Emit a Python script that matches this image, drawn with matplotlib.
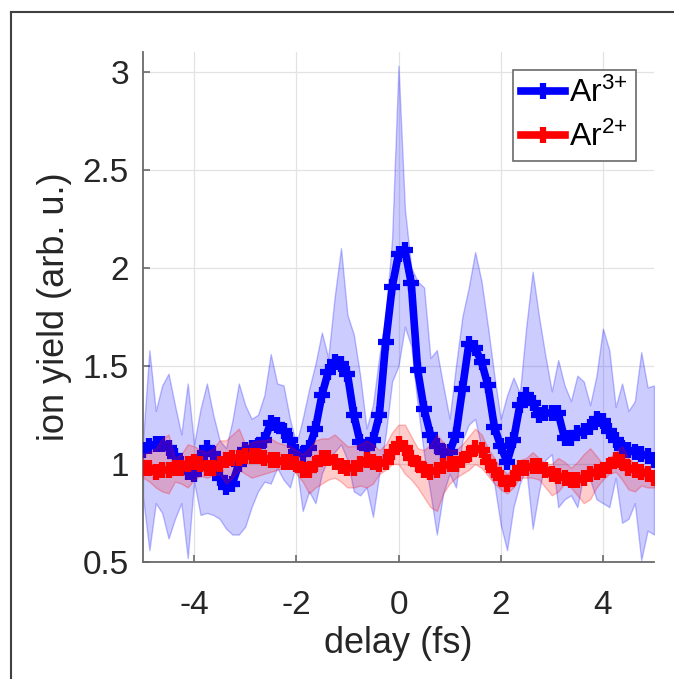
import numpy as np
import matplotlib
matplotlib.use('Agg')
import matplotlib.pyplot as plt
from matplotlib.lines import Line2D

plt.rcParams['font.family'] = ['Liberation Sans', 'DejaVu Sans']
plt.rcParams['mathtext.default'] = 'regular'

### Data ###
delay = np.linspace(-5, 5, 81)  # fs, 0.125 fs steps

ar3_mean = [1.07, 1.09, 1.10, 1.10, 1.08, 1.04, 1.00, 0.96, 0.95,
            1.03, 1.08, 1.05, 0.93, 0.88, 0.90, 1.00, 1.07, 1.08,
            1.09, 1.12, 1.21, 1.20, 1.17, 1.12, 1.06, 1.05, 1.08,
            1.18, 1.35, 1.47, 1.52, 1.51, 1.46, 1.25, 1.11, 1.08,
            1.12, 1.25, 1.62, 1.90, 2.07, 2.09, 1.92, 1.48, 1.28,
            1.15, 1.09, 1.06, 1.06, 1.15, 1.38, 1.61, 1.59, 1.52,
            1.40, 1.19, 1.09, 1.01, 1.12, 1.30, 1.35, 1.31, 1.25,
            1.26, 1.26, 1.26, 1.13, 1.13, 1.16, 1.17, 1.19, 1.23,
            1.22, 1.17, 1.12, 1.08, 1.07, 1.06, 1.05, 1.04, 1.02]
ar3_upper = [1.12, 1.58, 1.27, 1.40, 1.46, 1.30, 1.15, 1.41, 1.10,
             1.28, 1.41, 1.25, 1.12, 1.08, 1.22, 1.41, 1.30, 1.23,
             1.25, 1.35, 1.56, 1.41, 1.40, 1.23, 1.10, 1.23, 1.38,
             1.51, 1.67, 1.54, 1.85, 2.10, 1.76, 1.66, 1.45, 1.18,
             1.30, 1.55, 1.75, 2.15, 3.03, 2.30, 2.00, 1.93, 1.90,
             1.54, 1.58, 1.40, 1.23, 1.50, 1.75, 1.90, 2.08, 1.93,
             1.70, 1.45, 1.23, 1.35, 1.44, 1.36, 1.70, 1.98, 1.75,
             1.55, 1.37, 1.53, 1.40, 1.32, 1.45, 1.42, 1.30, 1.45,
             1.69, 1.58, 1.29, 1.41, 1.27, 1.32, 1.57, 1.39, 1.40]
ar3_lower = [0.83, 0.56, 0.80, 0.75, 0.62, 0.72, 0.80, 0.52, 0.91,
             0.74, 0.75, 0.74, 0.72, 0.67, 0.64, 0.64, 0.68, 0.78,
             0.86, 0.91, 0.90, 0.98, 0.92, 0.88, 1.00, 0.76, 0.86,
             0.80, 0.95, 1.03, 1.06, 1.10, 1.02, 0.86, 0.84, 0.88,
             0.73, 0.95, 1.15, 1.42, 1.50, 1.70, 1.60, 1.30, 1.05,
             0.85, 0.64, 0.85, 0.95, 0.88, 1.12, 1.20, 1.23, 1.08,
             0.96, 0.90, 0.69, 0.56, 0.78, 0.90, 0.98, 0.67, 0.86,
             1.02, 1.05, 0.78, 0.82, 0.84, 0.78, 0.95, 0.92, 0.82,
             0.80, 0.78, 0.93, 0.70, 0.72, 0.80, 0.51, 0.66, 0.64]

ar2_mean = [0.98, 0.98, 0.96, 0.97, 0.97, 0.98, 0.98, 1.00, 1.01,
            1.00, 0.98, 0.98, 1.00, 1.02, 1.03, 1.03, 1.04, 1.04,
            1.04, 1.03, 1.02, 1.02, 1.01, 1.01, 1.00, 0.97, 0.97,
            1.00, 1.03, 1.03, 1.01, 0.99, 0.98, 0.98, 1.00, 1.02,
            1.01, 1.00, 1.01, 1.06, 1.10, 1.08, 1.03, 1.00, 0.97,
            0.96, 0.97, 0.99, 1.00, 1.00, 1.02, 1.05, 1.08, 1.07,
            1.01, 0.97, 0.93, 0.90, 0.93, 0.98, 0.98, 0.99, 0.99,
            0.97, 0.95, 0.94, 0.93, 0.92, 0.92, 0.93, 0.95, 0.96,
            0.97, 0.99, 1.02, 1.01, 0.98, 0.97, 0.96, 0.95, 0.93]
ar2_upper = [1.05, 1.06, 1.08, 1.13, 1.15, 1.03, 1.05, 1.10, 1.09,
             1.07, 1.06, 1.08, 1.12, 1.12, 1.15, 1.18, 1.10, 1.11,
             1.12, 1.12, 1.13, 1.11, 1.10, 1.09, 1.07, 1.05, 1.08,
             1.12, 1.13, 1.13, 1.15, 1.12, 1.09, 1.09, 1.10, 1.12,
             1.10, 1.07, 1.10, 1.16, 1.20, 1.20, 1.14, 1.08, 1.07,
             1.10, 1.15, 1.11, 1.07, 1.07, 1.10, 1.14, 1.18, 1.15,
             1.08, 1.03, 0.98, 0.95, 0.98, 1.02, 1.03, 1.06, 1.03,
             1.00, 1.00, 1.03, 1.01, 0.98, 1.01, 1.05, 1.08, 1.04,
             1.00, 1.03, 1.06, 1.09, 1.03, 1.00, 0.99, 0.97, 0.95]
ar2_lower = [0.93, 0.91, 0.88, 0.86, 0.85, 0.91, 0.90, 0.88, 0.92,
             0.94, 0.93, 0.94, 0.95, 0.90, 0.93, 0.97, 0.95, 0.93,
             0.94, 0.95, 0.96, 0.97, 0.98, 1.00, 0.95, 0.91, 0.85,
             0.88, 0.90, 0.92, 0.93, 0.91, 0.88, 0.88, 0.89, 0.88,
             0.90, 0.95, 0.97, 1.00, 1.00, 0.95, 0.92, 0.88, 0.83,
             0.78, 0.76, 0.85, 0.90, 0.93, 0.95, 0.97, 1.00, 0.98,
             0.94, 0.90, 0.87, 0.85, 0.88, 0.93, 0.93, 0.93, 0.92,
             0.88, 0.84, 0.86, 0.90, 0.88, 0.84, 0.80, 0.82, 0.88,
             0.92, 0.95, 0.96, 0.92, 0.87, 0.86, 0.89, 0.88, 0.88]

x_ticks = [-4, -2, 0, 2, 4]
y_ticks = [0.5, 1, 1.5, 2, 2.5, 3]
y_tick_labels = ['0.5', '1', '1.5', '2', '2.5', '3']

### Figure ###
fig = plt.figure(figsize=(6.74, 6.79), dpi=100)
ax = fig.add_axes([143 / 674, 1 - 562 / 679, 511 / 674, 510 / 679])

# Ar3+ band and line first, Ar2+ drawn over it
ax.fill_between(delay, ar3_lower, ar3_upper, facecolor=(0, 0, 1, 0.2),
                edgecolor=(0, 0, 1, 0.25), linewidth=1, zorder=2)
ax.plot(delay, ar3_mean, color='#0000ff', linewidth=5.5, marker='+',
        markersize=12, markeredgewidth=4.5, label='Ar$^{3{+}}$', zorder=3)
ax.fill_between(delay, ar2_lower, ar2_upper, facecolor=(1, 0, 0, 0.2),
                edgecolor=(1, 0, 0, 0.25), linewidth=1, zorder=4)
ax.plot(delay, ar2_mean, color='#ff0000', linewidth=5.5, marker='+',
        markersize=12, markeredgewidth=4.5, label='Ar$^{2{+}}$', zorder=5)

ax.set_xlim(-5, 5)
ax.set_ylim(0.5, 3.1)
ax.set_xticks(x_ticks)
ax.set_xticklabels([str(t) for t in x_ticks])
ax.set_yticks(y_ticks)
ax.set_yticklabels(y_tick_labels)
ax.grid(True, color='#e3e3e3', linewidth=0.9, zorder=0)
ax.set_axisbelow(True)

for side in ['top', 'right']:
    ax.spines[side].set_visible(False)
for side in ['left', 'bottom']:
    ax.spines[side].set_color('#6a6a6a')
    ax.spines[side].set_linewidth(1.3)

ax.tick_params(direction='in', length=5, width=1.2, color='#6a6a6a',
               labelsize=24, labelcolor='#262626')
ax.tick_params(axis='x', pad=20)
ax.tick_params(axis='y', pad=10)

ax.set_xlabel('delay (fs)', fontsize=26, color='#262626', labelpad=4)
ax.set_ylabel('ion yield (arb. u.)', fontsize=26, color='#262626', labelpad=8)

leg = ax.legend(loc='upper right', bbox_to_anchor=(0.965, 0.965), borderaxespad=0,
                fontsize=23, handlelength=1.35, handletextpad=0.15,
                labelspacing=0.4, borderpad=0.25, fancybox=False, framealpha=1)
leg.get_frame().set_edgecolor('#6a6a6a')
leg.get_frame().set_linewidth(1.2)

# frame of the screenshot (left and top edges)
fig.add_artist(Line2D([11 / 674, 11 / 674], [0, 1 - 12 / 679], transform=fig.transFigure,
                      color='#404040', linewidth=1.5))
fig.add_artist(Line2D([11 / 674, 1], [1 - 12 / 679, 1 - 12 / 679], transform=fig.transFigure,
                      color='#404040', linewidth=1.5))

fig.savefig('out.png', dpi=100)
